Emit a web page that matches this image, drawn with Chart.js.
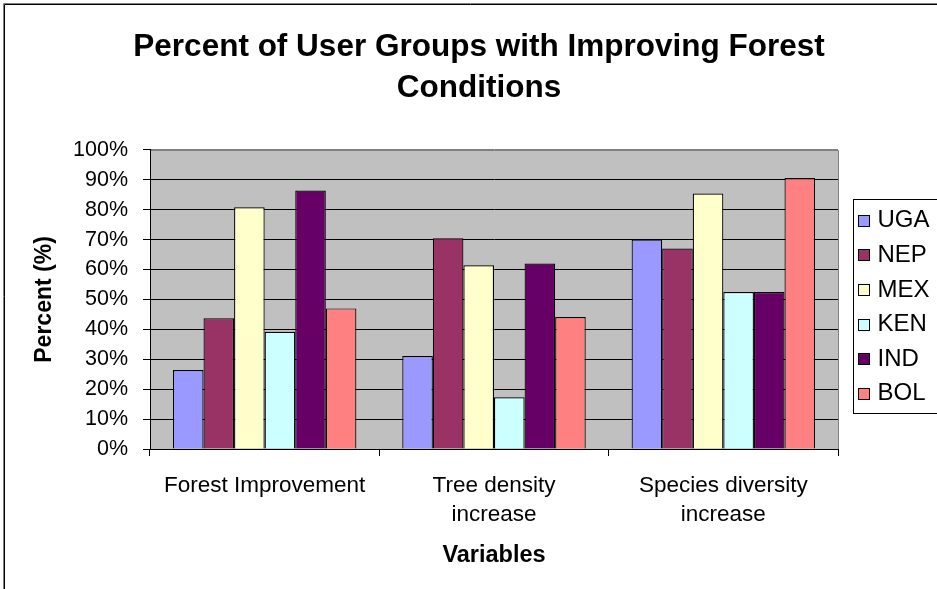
<!DOCTYPE html>
<html><head><meta charset="utf-8">
<script src="https://cdn.jsdelivr.net/npm/chart.js@4.4.0/dist/chart.umd.min.js"></script>
<style>html,body{margin:0;padding:0;background:#fff;} canvas{display:block;}</style>
</head><body>
<canvas id="c" width="937" height="589"></canvas>
<script>
// ---- data ----
const categories = [['Forest Improvement'], ['Tree density', 'increase'], ['Species diversity', 'increase']];
const seriesNames = ['UGA', 'NEP', 'MEX', 'KEN', 'IND', 'BOL'];
const UGA = [26.4, 31.1, 70.0];
const NEP = [43.7, 70.5, 67.0];
const MEX = [80.8, 61.4, 85.4];
const KEN = [39.2, 17.3, 52.5];
const IND = [86.4, 62.0, 52.5];
const BOL = [47.0, 44.1, 90.6];
const yTickLabels = ['0%', '10%', '20%', '30%', '40%', '50%', '60%', '70%', '80%', '90%', '100%'];
const titleLines = ['Percent of User Groups with Improving Forest', 'Conditions'];
const yTitle = 'Percent (%)';
const xTitle = 'Variables';
// ---- style ----
const seriesColors = ['#9999FF', '#993366', '#FFFFCC', '#CCFFFF', '#660066', '#FF8080'];
const FONT = "'Liberation Sans', Arial, Helvetica, sans-serif";
Chart.defaults.font.family = FONT;
Chart.defaults.color = '#000';

const seriesValues = [UGA, NEP, MEX, KEN, IND, BOL];

const decorPlugin = {
  id: 'decor',
  beforeDraw(chart) {
    const ctx = chart.ctx, a = chart.chartArea;
    ctx.save();
    ctx.fillStyle = '#fff';
    ctx.fillRect(0, 0, chart.width, chart.height);
    // outer frame (top and left)
    ctx.strokeStyle = '#808080';
    ctx.lineWidth = 1;
    ctx.beginPath();
    ctx.moveTo(3.5, chart.height); ctx.lineTo(3.5, 3.5); ctx.lineTo(chart.width, 3.5);
    ctx.stroke();
    ctx.strokeStyle = '#000';
    ctx.beginPath();
    ctx.moveTo(4.5, chart.height); ctx.lineTo(4.5, 4.5); ctx.lineTo(chart.width, 4.5);
    ctx.stroke();
    // plot background
    ctx.fillStyle = '#C0C0C0';
    ctx.fillRect(a.left, a.top, a.right - a.left, a.bottom - a.top);
    ctx.strokeStyle = '#808080';
    ctx.beginPath();
    ctx.moveTo(Math.round(a.right) + 0.5, a.bottom);
    ctx.lineTo(Math.round(a.right) + 0.5, Math.round(a.top) + 0.5);
    ctx.lineTo(a.left, Math.round(a.top) + 0.5);
    ctx.stroke();
    ctx.restore();
  },
  afterDraw(chart) {
    const ctx = chart.ctx, a = chart.chartArea;
    const fx = Math.round(a.right) + 15.5;
    const fy = 199.5, fh = 214;
    ctx.save();
    ctx.strokeStyle = '#000';
    ctx.lineWidth = 1;
    ctx.strokeRect(fx, fy, chart.width - fx + 5, fh);
    ctx.font = '24px ' + FONT;
    ctx.textBaseline = 'middle';
    ctx.textAlign = 'left';
    chart.data.datasets.forEach((ds, i) => {
      const cy = 219.7 + i * 34.6;
      const by = Math.round(cy - 5) + 0.5;
      ctx.fillStyle = ds.backgroundColor;
      ctx.fillRect(fx + 5, by, 11, 11);
      ctx.strokeStyle = '#000';
      ctx.strokeRect(fx + 5, by, 11, 11);
      ctx.fillStyle = '#000';
      ctx.fillText(ds.label, fx + 24, cy + 1);
    });
    ctx.restore();
  }
};

new Chart(document.getElementById('c'), {
  type: 'bar',
  data: {
    labels: categories,
    datasets: seriesNames.map((n, i) => ({
      label: n,
      data: seriesValues[i],
      backgroundColor: seriesColors[i],
      borderColor: '#000',
      borderWidth: 1.2,
      categoryPercentage: 0.8,
      barPercentage: 1.0
    }))
  },
  options: {
    responsive: false,
    animation: false,
    devicePixelRatio: 1,
    layout: { padding: { left: 21, right: 0, top: 0, bottom: 19 } },
    plugins: {
      legend: { display: false },
      tooltip: { enabled: false },
      title: {
        display: true,
        text: titleLines,
        color: '#000',
        font: { size: 31.5, weight: 'bold', lineHeight: 1.3 },
        padding: { top: 27, bottom: 41 }
      }
    },
    scales: {
      x: {
        grid: { display: true, drawOnChartArea: false, drawTicks: true, tickLength: 7, color: '#000', offset: true },
        border: { display: true, color: '#000', width: 1 },
        ticks: { font: { size: 22.5, lineHeight: 1.3 }, color: '#000', padding: 15, maxRotation: 0, autoSkip: false },
        title: { display: true, text: xTitle, font: { size: 23.5, weight: 'bold', lineHeight: 1.2 }, color: '#000', padding: { top: 0, bottom: 0 } },
        afterFit(s) { s.height = 121; }
      },
      y: {
        min: 0, max: 100,
        ticks: { stepSize: 10, autoSkip: false, font: { size: 21.5 }, color: '#000', padding: 15,
          callback: (v, i) => yTickLabels[i] },
        grid: { color: (c) => (c.tick && c.tick.value === 100 ? '#808080' : '#000'),
          tickColor: '#000', tickLength: 7, lineWidth: 1 },
        border: { display: true, color: '#000', width: 1 },
        title: { display: true, text: yTitle, font: { size: 23, weight: 'bold', lineHeight: 1.2 }, color: '#000', padding: { top: 10, bottom: 0 } },
        afterFit(s) { s.width = 129; }
      },
      yRight: {
        type: 'linear', position: 'right', display: true,
        grid: { display: false }, border: { display: false },
        ticks: { display: false },
        afterFit(s) { s.width = 99; }
      }
    }
  },
  plugins: [decorPlugin]
});
</script>
</body></html>
